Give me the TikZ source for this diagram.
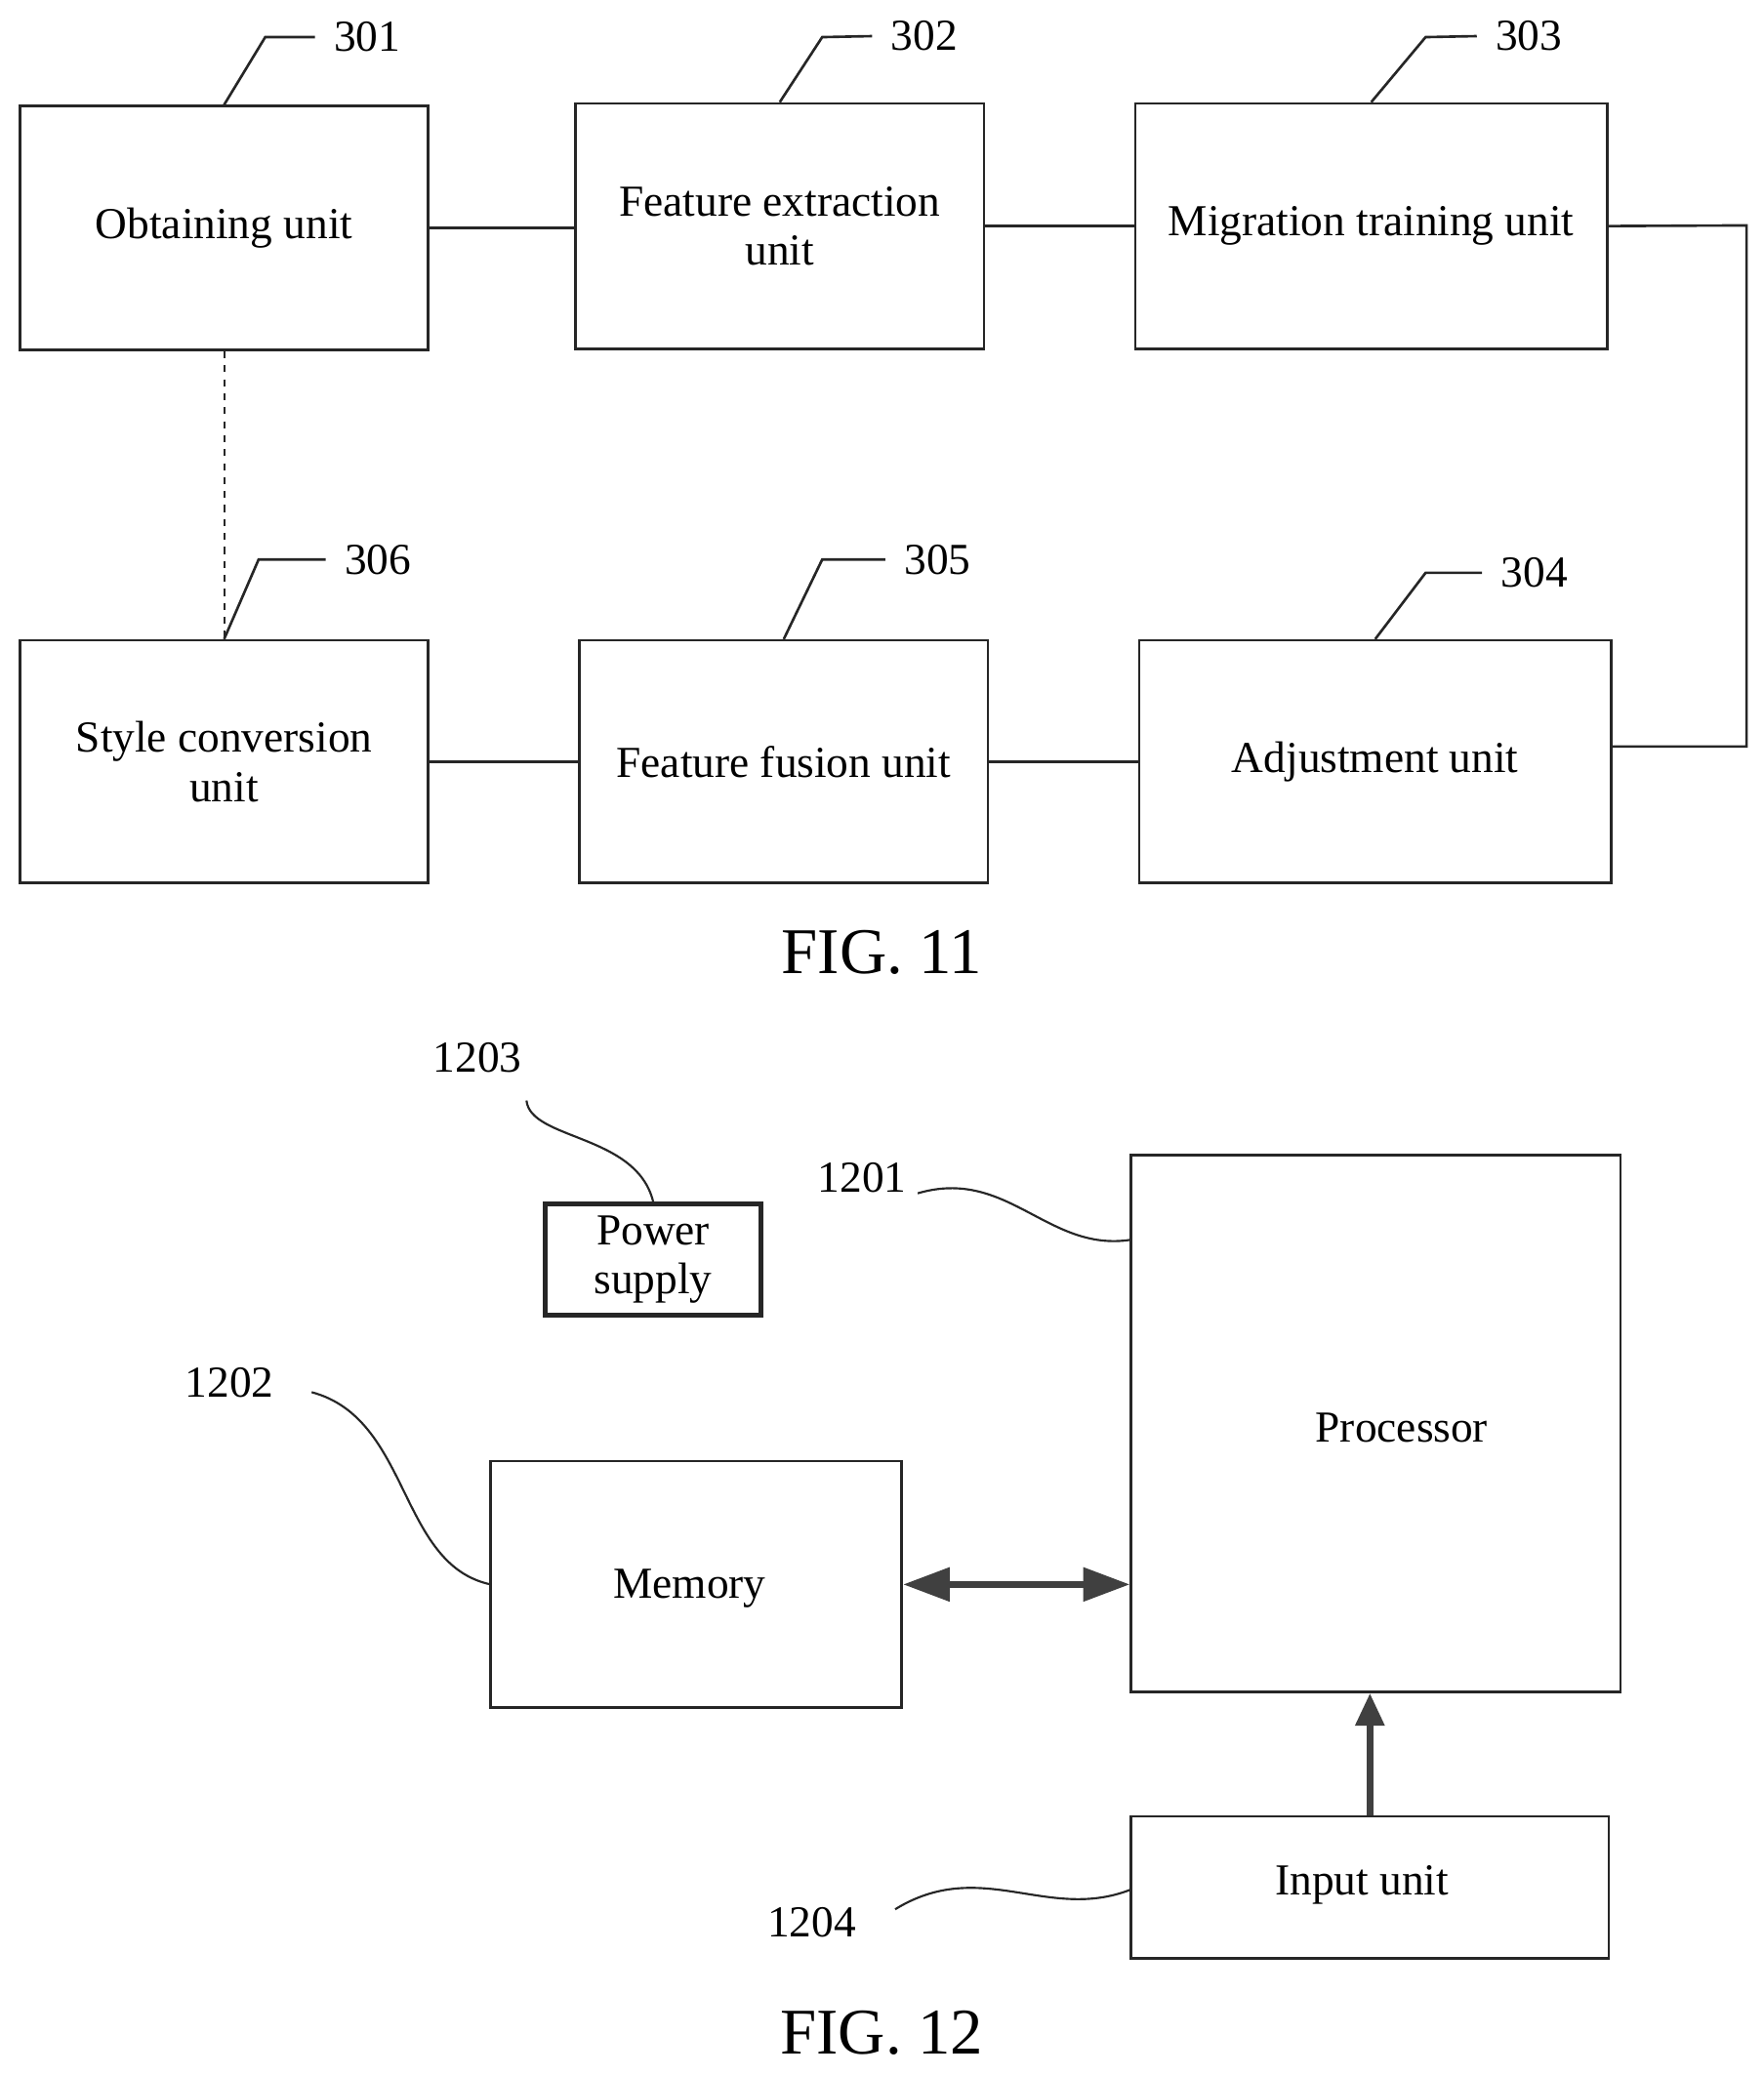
\documentclass[tikz,border=0pt]{standalone}
\usepackage{fontspec}
\setmainfont{Liberation Serif}
\usetikzlibrary{arrows.meta}
\begin{document}
\begin{tikzpicture}[x=0.02cm,y=-0.02cm,
  box/.style={draw=black!85,line width=1.1pt,rectangle,inner sep=0pt,align=center,font=\fontsize{19}{21}\selectfont},
  lbl/.style={font=\fontsize{19}{21}\selectfont,inner sep=1pt},
  ln/.style={draw=black!85,line width=1.1pt},
  fig/.style={font=\fontsize{28}{30}\selectfont}]
\useasboundingbox (0,0) rectangle (1330,1565);
% FIG 11
\node[box,minimum width=308*0.02cm,minimum height=184*0.02cm] (ob) at (169,172) {Obtaining unit};
\node[box,minimum width=308*0.02cm,minimum height=185*0.02cm] (fe) at (588,170.5) {Feature extraction\\unit};
\node[box,minimum width=356*0.02cm,minimum height=185*0.02cm] (mt) at (1034,170.5) {Migration training unit};
\node[box,minimum width=308*0.02cm,minimum height=183*0.02cm] (sc) at (169,574.5) {Style conversion\\unit};
\node[box,minimum width=308*0.02cm,minimum height=183*0.02cm] (ff) at (591,574.5) {Feature fusion unit};
\node[box,minimum width=356*0.02cm,minimum height=183*0.02cm] (ad) at (1037,574.5) {Adjustment unit};
\draw[ln] (ob.east) -- (fe.west|-ob.east);
\draw[ln] (fe.east) -- (mt.west);
\coordinate (c1) at (1317,170);
\coordinate (c2) at (1317,563);
\draw[ln] (mt.east) -- (c1) -- (c2) -- (ad.east|-c2);
\draw[ln] (ad.west) -- (ff.east);
\draw[ln] (ff.west) -- (sc.east);
\draw[ln,dashed,line width=0.8pt] (ob.south) -- (sc.north);
\node[lbl] (l301) at (277,28) {301};
\node[lbl] (l302) at (697,27) {302};
\node[lbl] (l303) at (1153,27) {303};
\node[lbl] (l306) at (285,422) {306};
\node[lbl] (l305) at (707,422) {305};
\node[lbl] (l304) at (1157,432) {304};
\draw[ln,shorten >=7pt] (ob.north) -- (200,28) -- (l301.west);
\draw[ln,shorten >=7pt] (fe.north) -- (620,28) -- (l302.west);
\draw[ln,shorten >=7pt] (mt.north) -- (1075,28) -- (l303.west);
\draw[ln,shorten >=7pt] (sc.north) -- (195,422) -- (l306.west);
\draw[ln,shorten >=7pt] (ff.north) -- (620,422) -- (l305.west);
\draw[ln,shorten >=7pt] (ad.north) -- (1075,432) -- (l304.west);
\node[fig] (f11) at (665,718) {FIG. 11};
% FIG 12
\node[box,line width=2pt,minimum width=163*0.02cm,minimum height=84*0.02cm] (ps) at (492.5,950) {Power\\supply};
\node[box,minimum width=369*0.02cm,minimum height=405*0.02cm] (pr) at (1037.5,1073.5) {};
\node[font=\fontsize{19}{21}\selectfont] (prt) at (1057,1077) {Processor};
\node[box,minimum width=310*0.02cm,minimum height=186*0.02cm] (me) at (525,1195) {};
\node[font=\fontsize{19}{21}\selectfont] (met) at (520,1198) {Memory};
\node[box,minimum width=360*0.02cm,minimum height=107*0.02cm] (in) at (1033,1423.5) {};
\node[font=\fontsize{19}{21}\selectfont] (int) at (1027,1422) {Input unit};
\draw[draw=black!75,line width=3pt,{Triangle[length=20pt,width=14pt]}-{Triangle[length=20pt,width=14pt]}] (me.east) -- (pr.west|-me.east);
\draw[draw=black!75,line width=3pt,-{Triangle[length=14pt,width=12pt]}] (in.north) -- (in.north|-pr.south);
\node[lbl] (l1203) at (360,798) {1203};
\node[lbl] (l1201) at (650,888) {1201};
\node[lbl] (l1202) at (173,1043) {1202};
\node[lbl] (l1204) at (612,1450) {1204};
\draw[ln,line width=0.9pt] (397,830) .. controls (400,860) and (480,855) .. (ps.north);
\draw[ln,line width=0.9pt] (692,900) .. controls (760,880) and (790,945) .. (853,935);
\draw[ln,line width=0.9pt] (235,1050) .. controls (310,1070) and (300,1180) .. (370,1195);
\draw[ln,line width=0.9pt] (675,1440) .. controls (740,1400) and (790,1450) .. (853,1425);
\node[fig] (f12) at (665,1533) {FIG. 12};
\end{tikzpicture}
\end{document}
